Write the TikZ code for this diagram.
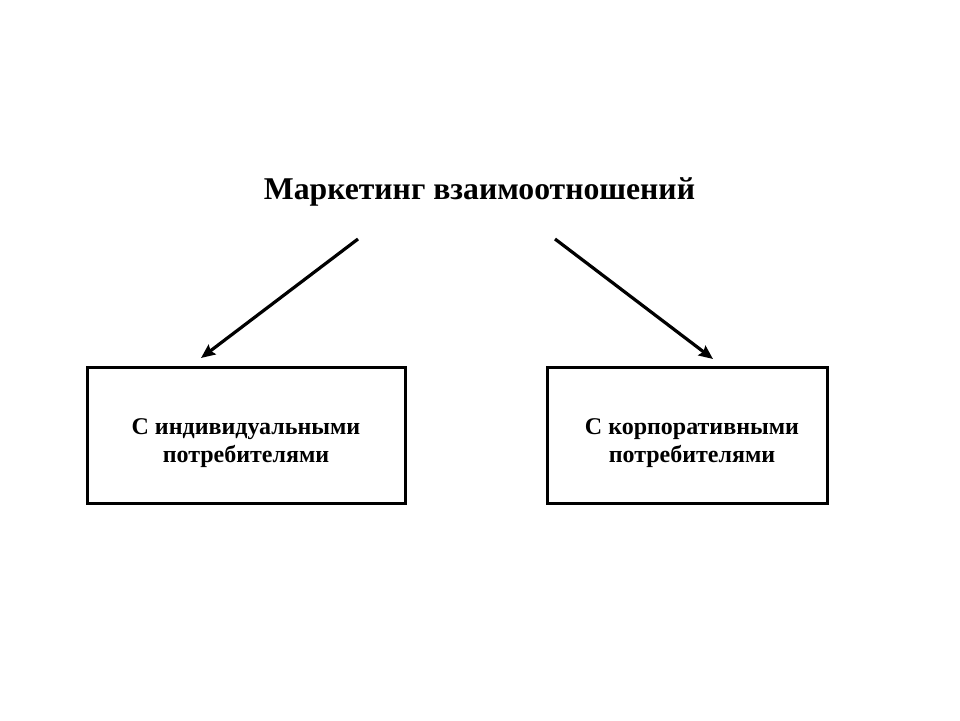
\documentclass[tikz,border=0pt]{standalone}
\usepackage{fontspec}
\setmainfont{Liberation Serif}
\usetikzlibrary{arrows.meta}
\tikzset{>={Stealth[length=14pt,width=12pt,inset=2pt]}}
\tikzset{
  sidebox/.style={
    draw, line width=3pt, minimum height=136pt
  },
  boxtext/.style={
    align=center, font=\fontsize{24}{28}\selectfont\bfseries
  }
}

\begin{document}
\begin{tikzpicture}[x=1pt,y=-1pt]
    \useasboundingbox (0,0) rectangle (960,720);
    \node[font=\fontsize{31.7}{36}\selectfont\bfseries](title) at (479.5,192) {Маркетинг взаимоотношений};
    \node[sidebox,minimum width=318pt](indiv) at (246,435) {};
    \node[sidebox,minimum width=280pt](corp) at (687,435) {};
    \node[boxtext](indivtext) at ([yshift=-8.5pt]indiv.center) {С индивидуальными\\потребителями};
    \node[boxtext](corptext) at ([xshift=5pt,yshift=-8.5pt]corp.center) {С корпоративными\\потребителями};
    \coordinate (ls) at (358,239);
    \coordinate (le) at (201,358);
    \coordinate (rs) at (555,239);
    \coordinate (re) at (713,359);
    \draw[->,line width=3.2pt] (ls)--(le);
    \draw[->,line width=3.2pt] (rs)--(re);
\end{tikzpicture}
\end{document}
